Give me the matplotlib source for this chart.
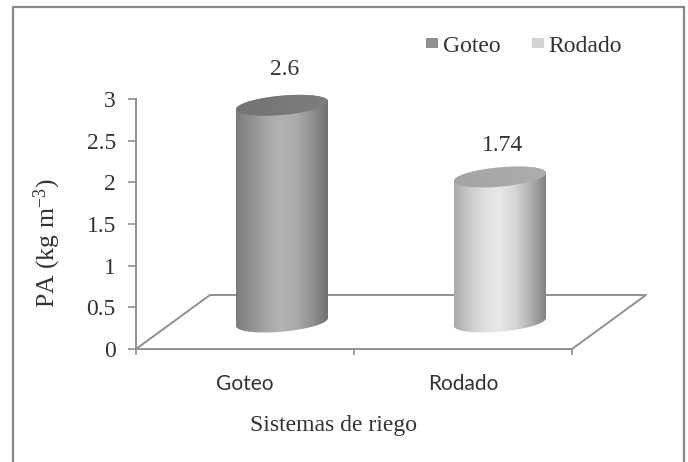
import numpy as np
import matplotlib
matplotlib.use("Agg")
import matplotlib.pyplot as plt
from matplotlib.colors import LinearSegmentedColormap
from matplotlib.patches import PathPatch, Patch, Rectangle
from matplotlib.path import Path

plt.rcParams["mathtext.default"] = "regular"

categories = ["Goteo", "Rodado"]
values = [2.6, 1.74]
y_ticks = [0, 0.5, 1, 1.5, 2, 2.5, 3]
y_tick_labels = ["0", "0.5", "1", "1.5", "2", "2.5", "3"]
x_label = "Sistemas de riego"
y_label = r"PA (kg m$^{-3}$)"

SERIF = "Liberation Serif"
SANS = "Lato"
INK = "#333333"
AXIS = "#8f918f"
body_colors = [["#7c7e7d", "#8f9190", "#a6a8a7", "#b2b4b3", "#a9abaa", "#8f9190", "#6f7170"],
               ["#a9abaa", "#c9cbca", "#dfe0df", "#e7e8e7", "#d4d5d4", "#b0b2b1", "#808281"]]
top_colors = [["#727473", "#7c7e7d"], ["#a3a5a4", "#adafae"]]
legend_colors = ["#8f9190", "#d2d4d3"]
label_lift = [26, 23]

W, H = 688, 462
fig = plt.figure(figsize=(W / 100, H / 100), dpi=100, facecolor="white")
ax = fig.add_axes([136 / W, (H - 349) / H, 436 / W, 250 / H])
ax.set_xlim(0, 2)
ax.set_ylim(0, 3)
ax.patch.set_alpha(0)

fig.add_artist(Rectangle((13 / W, -0.02), 671 / W, 1.02 - 7 / H, transform=fig.transFigure,
                         fill=False, ec="#8a8a8a", lw=1.6))

# projected depth of the floor, in data units
dx = 74 / 218
dy = 54 / (250 / 3)
half = 46 / 218
b = 9.7 / (250 / 3)
k = 4 / (250 / 3)

floor_x = [0, dx, 2 + dx, 2]
floor_y = [0, dy, dy, 0]
ax.plot(floor_x, floor_y, color=AXIS, lw=1.4, clip_on=False, zorder=1)

t = np.linspace(0, 2 * np.pi, 121)
for i, (val, body, top, lift) in enumerate(zip(values, body_colors, top_colors, label_lift)):
    cx = i + 0.5 + dx / 2
    y0 = dy / 2
    y1 = y0 + val
    # body outline: lower half of base, then upper edge along the top ellipse
    tb = np.linspace(np.pi, 2 * np.pi, 60)
    bx = cx + half * np.cos(tb)
    by = y0 + b * np.sin(tb) + k * np.cos(tb)
    tt = np.linspace(0, np.pi, 60)
    ux = cx + half * np.cos(tt)
    uy = y1 + b * np.sin(tt) + k * np.cos(tt)
    outline = np.vstack([np.column_stack([bx, by]), np.column_stack([ux, uy])])
    clip = PathPatch(Path(np.vstack([outline, outline[0]])), fc="none", ec="none", transform=ax.transData)
    ax.add_patch(clip)
    cmap = LinearSegmentedColormap.from_list("b", body)
    im = ax.imshow(np.linspace(0, 1, 256)[None, :], extent=[cx - half, cx + half, y0 - 0.3, y1 + 0.3],
                   aspect="auto", cmap=cmap, interpolation="bilinear", zorder=2)
    im.set_clip_box(fig.bbox)
    im.set_clip_path(clip)
    # top ellipse
    ex = cx + half * np.cos(t)
    ey = y1 + b * np.sin(t) + k * np.cos(t)
    clip2 = PathPatch(Path(np.column_stack([ex, ey])), fc="none", ec="none", transform=ax.transData)
    ax.add_patch(clip2)
    cmap2 = LinearSegmentedColormap.from_list("t", top)
    im2 = ax.imshow(np.linspace(0, 1, 64)[None, :], extent=[cx - half, cx + half, y1 - 0.3, y1 + 0.3],
                    aspect="auto", cmap=cmap2, interpolation="bilinear", zorder=3)
    im2.set_clip_box(fig.bbox)
    im2.set_clip_path(clip2)
    ax.annotate(str(val), (cx, y1), xytext=(2, lift), textcoords="offset points", ha="center", va="center",
                family=SERIF, fontsize=17, color=INK, annotation_clip=False, zorder=5)

ax.set_xlim(0, 2)
ax.set_ylim(0, 3)

for s in ("top", "right"):
    ax.spines[s].set_visible(False)
for s in ("left", "bottom"):
    ax.spines[s].set_color(AXIS)
    ax.spines[s].set_linewidth(1.4)
ax.set_yticks(y_ticks)
ax.set_yticklabels(y_tick_labels, family=SERIF, fontsize=17, color=INK)
ax.set_xticks([0, 1, 2])
ax.set_xticklabels([])
ax.set_xticks([0.5, 1.5], minor=True)
ax.set_xticklabels(categories, minor=True, family=SANS, fontsize=15, color=INK)
ax.tick_params(axis="x", which="major", length=4.5, width=1.2, color=AXIS)
ax.tick_params(axis="x", which="minor", length=0, pad=18)
ax.tick_params(axis="y", length=5.5, width=1.2, color=AXIS, pad=9)

fig.text(333 / W, 1 - 425 / H, x_label, family=SERIF, fontsize=17, color=INK, ha="center", va="center")
fig.text(47 / W, 1 - 243 / H, y_label, family=SERIF, fontsize=18.5, color=INK, ha="center", va="center", rotation=90)

handles = [Patch(fc=c, ec="none") for c in legend_colors]
fig.legend(handles, categories, ncol=2, frameon=False, loc="center left",
           bbox_to_anchor=(405 / W, 1 - 46 / H), prop={"family": SERIF, "size": 17},
           labelcolor=INK, handlelength=0.5, handleheight=0.3, handletextpad=0.2, columnspacing=1.35)

fig.savefig("out.png", dpi=100)
